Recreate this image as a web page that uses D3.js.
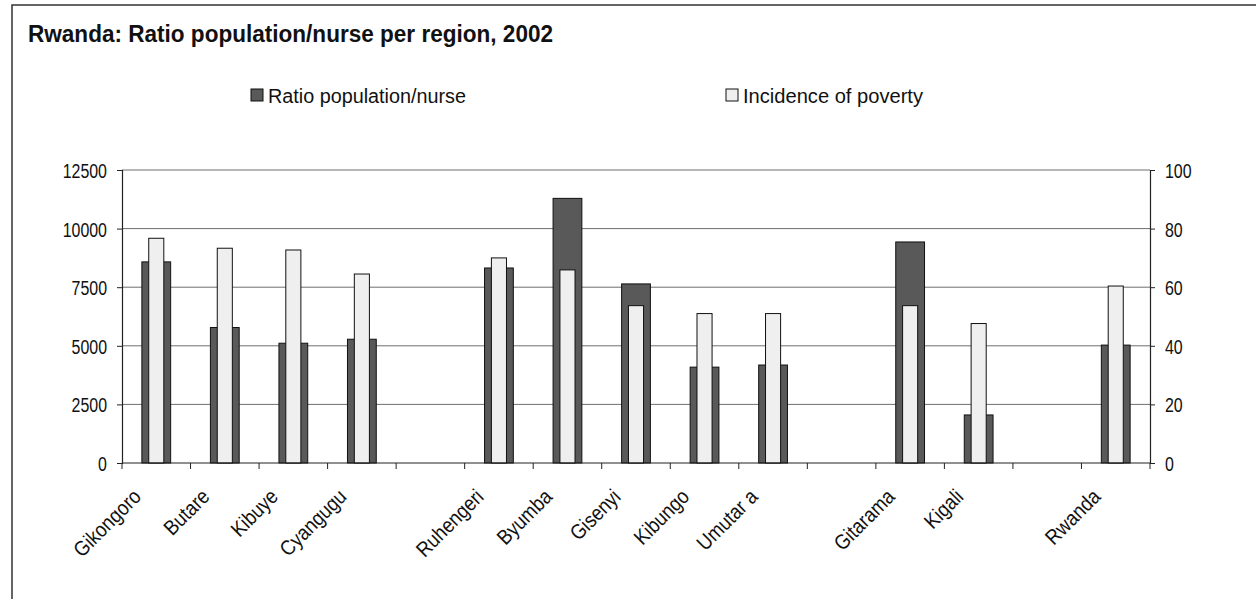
<!DOCTYPE html>
<html>
<head>
<meta charset="utf-8">
<script src="https://cdn.jsdelivr.net/npm/d3@7"></script>
<style>
  html, body { margin: 0; padding: 0; background: #fff; }
  svg { display: block; }
  text { font-family: "Liberation Sans", Arial, sans-serif; fill: #111; }
</style>
</head>
<body>
<svg id="chart" width="1256" height="599"></svg>
<script>
// Regions (empty strings are spacer slots between groups of regions)
const regions = ["Gikongoro", "Butare", "Kibuye", "Cyangugu", "", "Ruhengeri", "Byumba",
                 "Gisenyi", "Kibungo", "Umutar a", "", "Gitarama", "Kigali", "", "Rwanda"];
// Inhabitants per nurse (left axis)
const ratioPopNurse = [8580, 5780, 5110, 5280, null, 8320, 11290, 7640, 4090, 4180, null, 9430, 2050, null, 5030];
// Incidence of poverty, % (right axis)
const povertyIncidence = [76.7, 73.3, 72.7, 64.5, null, 70.0, 65.9, 53.7, 51.0, 51.0, null, 53.7, 47.6, null, 60.4];
const leftTicks = [0, 2500, 5000, 7500, 10000, 12500];
const rightTicks = [0, 20, 40, 60, 80, 100];
const seriesNames = ["Ratio population/nurse", "Incidence of poverty"];

const svg = d3.select("#chart");
const plot = { left: 122, right: 1150, top: 170, bottom: 463 };
const narrow = 0.76; // horizontal squeeze for the condensed-looking numerals

// outer frame (open on right and bottom)
svg.append("path")
  .attr("d", `M12,599 L12,5 L1256,5`)
  .attr("fill", "none").attr("stroke", "#333").attr("stroke-width", 1.5);

svg.append("text")
  .attr("x", 28).attr("y", 42)
  .attr("font-size", 23).attr("font-weight", "bold")
  .attr("textLength", 525).attr("lengthAdjust", "spacingAndGlyphs")
  .text("Rwanda: Ratio population/nurse per region, 2002");

const x = d3.scaleBand().domain(d3.range(regions.length)).range([plot.left, plot.right]).padding(0);
const yL = d3.scaleLinear().domain([0, 12500]).range([plot.bottom, plot.top]);
const yR = d3.scaleLinear().domain([0, 100]).range([plot.bottom, plot.top]);

// gridlines
svg.append("g").selectAll("line").data(leftTicks.filter(d => d > 0)).join("line")
  .attr("x1", plot.left).attr("x2", plot.right)
  .attr("y1", d => yL(d)).attr("y2", d => yL(d))
  .attr("stroke", "#6f6f6f").attr("stroke-width", 1);

// bars: wide dark bar behind, narrow light bar in front
const wDark = x.bandwidth() * 0.42;
const wLight = x.bandwidth() * 0.22;
const idx = d3.range(regions.length);

svg.append("g").selectAll("rect").data(idx.filter(i => ratioPopNurse[i] != null)).join("rect")
  .attr("x", i => x(i) + x.bandwidth() / 2 - wDark / 2)
  .attr("width", wDark)
  .attr("y", i => yL(ratioPopNurse[i]))
  .attr("height", i => yL(0) - yL(ratioPopNurse[i]))
  .attr("fill", "#595959").attr("stroke", "#111").attr("stroke-width", 1);

svg.append("g").selectAll("rect").data(idx.filter(i => povertyIncidence[i] != null)).join("rect")
  .attr("x", i => x(i) + x.bandwidth() / 2 - wLight / 2)
  .attr("width", wLight)
  .attr("y", i => yR(povertyIncidence[i]))
  .attr("height", i => yR(0) - yR(povertyIncidence[i]))
  .attr("fill", "#efefef").attr("stroke", "#111").attr("stroke-width", 1);

// axes
const gL = svg.append("g").attr("transform", `translate(${plot.left},0)`)
  .call(d3.axisLeft(yL).tickValues(leftTicks).tickSize(5).tickFormat(d3.format("d")));
const gR = svg.append("g").attr("transform", `translate(${plot.right},0)`)
  .call(d3.axisRight(yR).tickValues(rightTicks).tickSize(5).tickFormat(d3.format("d")));
[[gL, -15], [gR, 15]].forEach(([g, off]) => {
  g.select(".domain").attr("stroke", "#222").attr("stroke-width", 1.2);
  g.selectAll(".tick line").attr("stroke", "#222");
  g.selectAll("text")
    .attr("font-size", 21).attr("font-family", null)
    .attr("x", 0).attr("dy", "0.36em")
    .attr("transform", `translate(${off},0) scale(${narrow},1)`);
});

// bottom axis: ticks at band boundaries
const gB = svg.append("g");
gB.append("line").attr("x1", plot.left).attr("x2", plot.right)
  .attr("y1", plot.bottom).attr("y2", plot.bottom).attr("stroke", "#222").attr("stroke-width", 1.2);
gB.selectAll("line.tk").data(d3.range(regions.length + 1)).join("line").attr("class", "tk")
  .attr("x1", i => plot.left + i * x.step()).attr("x2", i => plot.left + i * x.step())
  .attr("y1", plot.bottom).attr("y2", plot.bottom + 6).attr("stroke", "#222");
gB.selectAll("text").data(idx.filter(i => regions[i] !== "")).join("text")
  .attr("transform", i => `translate(${x(i) + x.bandwidth() / 2 - 14},${plot.bottom + 35}) rotate(-45) scale(0.88,1)`)
  .attr("text-anchor", "end")
  .attr("font-size", 21)
  .text(i => regions[i]);

// legend
const legend = [
  { name: seriesNames[0], fill: "#595959", x: 251, len: 198 },
  { name: seriesNames[1], fill: "#efefef", x: 726, len: 180 }
];
const lg = svg.append("g").selectAll("g").data(legend).join("g")
  .attr("transform", d => `translate(${d.x},89)`);
lg.append("rect").attr("width", 12).attr("height", 12)
  .attr("fill", d => d.fill).attr("stroke", "#111").attr("stroke-width", 1);
lg.append("text").attr("x", 17).attr("y", 14).attr("font-size", 20)
  .attr("textLength", d => d.len).attr("lengthAdjust", "spacingAndGlyphs")
  .text(d => d.name);
</script>
</body>
</html>
